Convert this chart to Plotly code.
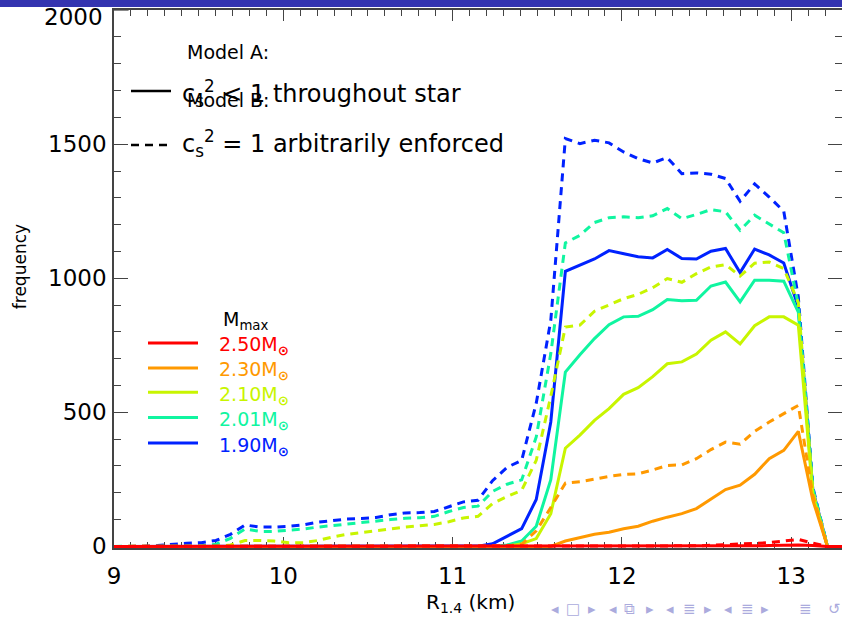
import plotly.graph_objects as go

# ---------------- data ----------------
r14 = [9.000, 9.086, 9.172, 9.258, 9.344, 9.430, 9.516, 9.602, 9.688, 9.774,
       9.860, 9.946, 10.032, 10.118, 10.204, 10.290, 10.376, 10.462, 10.548, 10.634,
       10.720, 10.806, 10.892, 10.978, 11.064, 11.150, 11.236, 11.322, 11.408, 11.494,
       11.580, 11.666, 11.752, 11.838, 11.924, 12.010, 12.096, 12.182, 12.268, 12.354,
       12.440, 12.526, 12.612, 12.698, 12.784, 12.870, 12.956, 13.042, 13.128, 13.214,
       13.300]

mass_labels = ["2.50", "2.30", "2.10", "2.01", "1.90"]
mass_colors = ["#FF0000", "#FF9900", "#C8F500", "#10F5A0", "#0022FF"]

# Model A (solid): c_s^2 < 1 throughout star
freq_A_190 = [0]*25 + [1, 10, 38, 66, 175, 464, 1026, 1048, 1072, 1103, 1091, 1080, 1076,
                       1107, 1074, 1072, 1101, 1111, 1021, 1109, 1087, 1057, 893, 210, 0, 0]
freq_A_201 = [0]*27 + [5, 20, 75, 249, 650, 715, 775, 827, 856, 858, 883, 921, 916, 918,
                       971, 986, 912, 993, 993, 989, 874, 200, 0, 0]
freq_A_210 = [0]*28 + [10, 29, 122, 366, 415, 470, 514, 567, 592, 633, 681, 688, 717, 769,
                       800, 755, 823, 856, 856, 825, 190, 0, 0]
freq_A_230 = [0]*31 + [20, 32, 45, 53, 66, 75, 94, 109, 122, 141, 178, 212, 228, 269, 327,
                       358, 429, 172, 0, 0]
freq_A_250 = [0]*43 + [1, 2, 3, 4, 5, 3, 0, 0]

# Model B (dashed): c_s^2 = 1 arbitrarily enforced
freq_B_190 = [0, 0, 0, 3, 8, 12, 14, 22, 45, 80, 72, 72, 75, 80, 90, 97, 102, 104, 108, 118,
              125, 126, 130, 148, 166, 172, 245, 295, 321, 534, 843, 1521, 1502, 1515, 1505,
              1471, 1446, 1430, 1450, 1390, 1393, 1388, 1372, 1287, 1352, 1303, 1250, 930,
              220, 0, 0]
freq_B_201 = [0, 0, 0, 0, 0, 0, 2, 8, 30, 65, 56, 56, 60, 65, 72, 78, 84, 88, 95, 100, 105,
              107, 112, 130, 145, 150, 205, 232, 248, 408, 719, 1132, 1160, 1208, 1226, 1229,
              1226, 1233, 1260, 1222, 1238, 1256, 1248, 1179, 1235, 1204, 1170, 900, 215, 0, 0]
freq_B_210 = [0, 0, 0, 0, 0, 0, 0, 0, 5, 22, 22, 20, 14, 14, 22, 35, 45, 52, 60, 66, 72, 77,
              82, 92, 106, 112, 160, 186, 209, 321, 560, 818, 825, 877, 899, 924, 940, 965,
              999, 985, 1017, 1042, 1051, 1008, 1056, 1061, 1036, 910, 205, 0, 0]
freq_B_230 = [0]*27 + [2, 8, 58, 145, 236, 241, 251, 261, 268, 271, 285, 302, 304, 327, 361,
                       389, 381, 429, 464, 495, 526, 190, 0, 0]
freq_B_250 = [0]*39 + [1, 2, 4, 6, 8, 10, 14, 20, 26, 12, 0, 0]

series_A = [freq_A_250, freq_A_230, freq_A_210, freq_A_201, freq_A_190]
series_B = [freq_B_250, freq_B_230, freq_B_210, freq_B_201, freq_B_190]

x_ticks = [9, 10, 11, 12, 13]
y_ticks = [0, 500, 1000, 1500, 2000]

nav_glyphs = ["◂", "□", "▸", "◂", "⧉", "▸", "◂", "≣", "▸", "◂", "≣", "▸", "≣", "↺"]
nav_px = [555, 573, 592, 613, 629, 650, 670, 689, 708, 728, 747, 765, 805, 834]

# ---------------- figure ----------------
W, H = 842, 617
L, R, T, B = 114, 842, 10, 547.6
FONT = "DejaVu Sans"


def xp(px):
    return (px - L) / (R - L)


def yp(py):
    return (B - py) / (B - T)


fig = go.Figure()

# draw blue first, red last (red on top along the baseline)
for k in [4, 3, 2, 1, 0]:
    fig.add_trace(go.Scatter(x=r14, y=series_B[k], mode="lines",
                             line=dict(color=mass_colors[k], width=3, dash="8px,6px"),
                             showlegend=False, hoverinfo="skip"))
    fig.add_trace(go.Scatter(x=r14, y=series_A[k], mode="lines",
                             line=dict(color=mass_colors[k], width=3),
                             showlegend=False, hoverinfo="skip"))

shapes = []
annotations = []

# slide header bar
shapes.append(dict(type="rect", xref="paper", yref="paper", x0=xp(-5), x1=xp(850),
                   y0=yp(7), y1=yp(-5), fillcolor="#3434B0", line=dict(width=0), layer="above"))

# model legend
shapes.append(dict(type="line", xref="paper", yref="paper", x0=xp(131), x1=xp(171),
                   y0=yp(91), y1=yp(91), line=dict(color="black", width=2.5)))
shapes.append(dict(type="line", xref="paper", yref="paper", x0=xp(131), x1=xp(173),
                   y0=yp(145), y1=yp(145), line=dict(color="black", width=2.5, dash="8px,6px")))

annotations.append(dict(text="Model A:", xref="paper", yref="paper", x=xp(185), y=yp(52),
                        xanchor="left", yanchor="middle", showarrow=False,
                        font=dict(family=FONT, size=19, color="black")))
annotations.append(dict(text="c<sub>s</sub><sup>2</sup> &lt; 1 throughout star",
                        xref="paper", yref="paper", x=xp(180), y=yp(93),
                        xanchor="left", yanchor="middle", showarrow=False,
                        font=dict(family=FONT, size=24, color="black")))
annotations.append(dict(text="Model B:", xref="paper", yref="paper", x=xp(185), y=yp(100),
                        xanchor="left", yanchor="middle", showarrow=False,
                        font=dict(family=FONT, size=19, color="black")))
annotations.append(dict(text="c<sub>s</sub><sup>2</sup> = 1 arbitrarily enforced",
                        xref="paper", yref="paper", x=xp(180), y=yp(143),
                        xanchor="left", yanchor="middle", showarrow=False,
                        font=dict(family=FONT, size=24, color="black")))

# mass legend
annotations.append(dict(text="M<sub>max</sub>", xref="paper", yref="paper", x=xp(221), y=yp(320),
                        xanchor="left", yanchor="middle", showarrow=False,
                        font=dict(family=FONT, size=19, color="black")))
leg_y = [342.7, 367.7, 392.0, 417.3, 442.7]
for k in range(5):
    shapes.append(dict(type="line", xref="paper", yref="paper", x0=xp(148), x1=xp(198),
                       y0=yp(leg_y[k]), y1=yp(leg_y[k]),
                       line=dict(color=mass_colors[k], width=3)))
    annotations.append(dict(text=mass_labels[k] + "M<sub><b>⊙</b></sub>", xref="paper",
                            yref="paper", x=xp(217), y=yp(leg_y[k] + 3), xanchor="left",
                            yanchor="middle", showarrow=False,
                            font=dict(family=FONT, size=19, color=mass_colors[k])))

# top y tick label (plotly drops it at the very edge of the figure)
annotations.append(dict(text=str(y_ticks[-1]), xref="paper", yref="y", x=xp(105),
                        y=y_ticks[-1], yshift=-7, xanchor="right", yanchor="middle",
                        showarrow=False, font=dict(family=FONT, size=23, color="black")))

# axis titles
annotations.append(dict(text="frequency", xref="paper", yref="paper", x=xp(20), y=yp(266),
                        xanchor="center", yanchor="middle", textangle=-90, showarrow=False,
                        font=dict(family=FONT, size=17, color="black")))
annotations.append(dict(text="R<sub>1.4</sub> (km)", xref="paper", yref="paper", x=xp(470),
                        y=yp(603), xanchor="center", yanchor="middle", showarrow=False,
                        font=dict(family=FONT, size=20, color="black")))

# beamer navigation symbols
for g, gx in zip(nav_glyphs, nav_px):
    annotations.append(dict(text=g, xref="paper", yref="paper", x=xp(gx), y=yp(609),
                            xanchor="center", yanchor="middle", showarrow=False,
                            font=dict(family=FONT, size=15, color="#ABABDD")))

axis_common = dict(showgrid=False, zeroline=False, showline=True, linecolor="#444",
                   linewidth=1.5, mirror="ticks", ticks="inside", tickcolor="#444",
                   tickwidth=1, layer="below traces",
                   tickfont=dict(family=FONT, size=23, color="black"))

fig.update_xaxes(range=[9, 13.3], tickvals=x_ticks, ticklen=11, ticklabelstandoff=7,
                 minor=dict(dtick=0.1, tick0=9, ticks="inside", ticklen=6,
                            tickcolor="#444", tickwidth=1),
                 **axis_common)
fig.update_yaxes(range=[-6, 2000.5], tickvals=y_ticks[:-1], ticklen=14.6, ticklabelstandoff=1,
                 minor=dict(dtick=100, tick0=0, ticks="inside", ticklen=7,
                            tickcolor="#444", tickwidth=1),
                 **axis_common)
# major tick mark at the top value (label drawn as annotation above)
shapes.append(dict(type="line", xref="paper", yref="y", x0=0, x1=xp(L + 14.6),
                   y0=y_ticks[-1], y1=y_ticks[-1], line=dict(color="#444", width=1)))

fig.update_layout(width=W, height=H, autosize=False,
                  margin=dict(l=L, r=W - R, t=T, b=H - B, autoexpand=False),
                  paper_bgcolor="white", plot_bgcolor="white",
                  shapes=shapes, annotations=annotations, showlegend=False)

fig.write_html("out.html")
